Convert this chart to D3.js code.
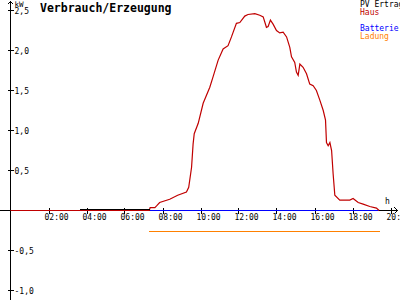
<!DOCTYPE html>
<html>
<head>
<meta charset="utf-8">
<script src="https://cdn.jsdelivr.net/npm/d3@7"></script>
<style>
  body { margin: 0; background: #fff; }
  svg { display: block; }
  text { font-family: "DejaVu Sans Mono", monospace; }
</style>
</head>
<body>
<svg id="chart" width="400" height="300"></svg>
<script>
// values: [hour, kW]
const haus = [
  [0, 0], [7.30, 0], [7.35, 0.035], [7.60, 0.035], [7.70, 0.06], [7.85, 0.10],
  [8.38, 0.14], [8.80, 0.19], [9.26, 0.23], [9.38, 0.29], [9.53, 0.54],
  [9.61, 0.83], [9.67, 0.96], [9.88, 1.09], [10.14, 1.34], [10.49, 1.54],
  [10.66, 1.67], [10.93, 1.88], [11.19, 2.02], [11.45, 2.06], [11.63, 2.17],
  [11.89, 2.34], [12.07, 2.35], [12.33, 2.43], [12.50, 2.45], [12.86, 2.46],
  [13.12, 2.44], [13.30, 2.42], [13.47, 2.29], [13.56, 2.30], [13.68, 2.38],
  [13.82, 2.33], [14.00, 2.25], [14.17, 2.22], [14.35, 2.23], [14.53, 2.17],
  [14.70, 2.04], [14.79, 1.92], [14.96, 1.85], [15.05, 1.73], [15.14, 1.69],
  [15.23, 1.83], [15.40, 1.79], [15.58, 1.71], [15.75, 1.58], [15.93, 1.56],
  [16.10, 1.50], [16.28, 1.38], [16.46, 1.25], [16.58, 1.13], [16.63, 0.85],
  [16.72, 0.81], [16.81, 0.85], [16.90, 0.75], [16.98, 0.46], [17.07, 0.19],
  [17.33, 0.13], [17.86, 0.13], [18.03, 0.15], [18.30, 0.10], [18.56, 0.08],
  [18.91, 0.05], [19.26, 0.03], [19.40, 0]
];
const pvErtrag = [[3.65, 0.0125], [7.33, 0.0125]];
const batterie = [[7.33, 0], [19.40, 0]];
const ladung = [[7.28, -0.2625], [19.45, -0.2625]];

const xTicks = [2, 4, 6, 8, 10, 12, 14, 16, 18, 20];
const xTickLabels = ["02:00", "04:00", "06:00", "08:00", "10:00", "12:00", "14:00", "16:00", "18:00", "20:00"];
const yTicks = [-1, -0.5, 0.5, 1, 1.5, 2, 2.5];
const yTickLabels = ["-1,0", "-0,5", "0,5", "1,0", "1,5", "2,0", "2,5"];

const legendNames = ["PV Ertrag", "Haus", "", "Batterie", "Ladung"];
const legendColors = ["#000000", "#c00000", "#000000", "#0000ff", "#ff8000"];
const seriesColor = { pv: "#000000", haus: "#c00000", batt: "#0000ff", ladung: "#ff8000" };

const svg = d3.select("#chart");
const x = d3.scaleLinear().domain([0, 20]).range([10.5, 390.5]);
const y = d3.scaleLinear().domain([0, 2.5]).range([210.5, 10.5]);

const axisG = svg.append("g").attr("shape-rendering", "crispEdges").attr("stroke", "#000");

// x axis line with arrow
axisG.append("line").attr("x1", 0).attr("x2", 397).attr("y1", y(0)).attr("y2", y(0));
axisG.append("path").attr("fill", "none")
  .attr("d", `M${394.5},${y(0) - 3}L${397.5},${y(0)}L${394.5},${y(0) + 3}`);

// y axis line with arrow
axisG.append("line").attr("x1", x(0)).attr("x2", x(0)).attr("y1", 1).attr("y2", 300);
axisG.append("path").attr("fill", "none")
  .attr("d", `M${x(0) - 3},${4.5}L${x(0)},${1.5}L${x(0) + 3},${4.5}`);

// x ticks
axisG.selectAll(".xt").data(xTicks).enter().append("line")
  .attr("x1", d => Math.round(x(d)) + 0.5).attr("x2", d => Math.round(x(d)) + 0.5)
  .attr("y1", y(0) - 3).attr("y2", y(0) + 3);

// y ticks
axisG.selectAll(".yt").data(yTicks).enter().append("line")
  .attr("x1", x(0) - 3).attr("x2", x(0) + 3)
  .attr("y1", d => Math.round(y(d) - 0.5) + 0.5).attr("y2", d => Math.round(y(d) - 0.5) + 0.5);

svg.selectAll(".xl").data(xTicks).enter().append("text")
  .attr("x", d => x(d) - 4).attr("y", 219.5)
  .attr("font-size", 8).attr("fill", "#000")
  .text((d, i) => xTickLabels[i]);

svg.selectAll(".yl").data(yTicks).enter().append("text")
  .attr("x", 14.5).attr("y", d => y(d) + 3.5)
  .attr("font-size", 8).attr("fill", "#000")
  .text((d, i) => yTickLabels[i]);

svg.append("text").attr("x", 14.5).attr("y", 6.5).attr("font-size", 7.5).text("kW");
svg.append("text").attr("x", 385).attr("y", 204).attr("font-size", 8).text("h");

svg.append("text").attr("x", 40).attr("y", 11.5)
  .attr("font-size", 11.5).attr("font-weight", "bold").text("Verbrauch/Erzeugung");

// series
const line = d3.line().x(d => x(d[0])).y(d => y(d[1]));
const seriesG = svg.append("g").attr("fill", "none").attr("stroke-width", 1);
seriesG.append("path").datum(ladung).attr("d", line).attr("stroke", seriesColor.ladung)
  .attr("shape-rendering", "crispEdges");
seriesG.append("path").datum(batterie).attr("d", line).attr("stroke", seriesColor.batt)
  .attr("shape-rendering", "crispEdges");
seriesG.append("path").datum(haus).attr("d", line).attr("stroke", seriesColor.haus)
  .attr("stroke-width", 1.2);
seriesG.append("path").datum(pvErtrag).attr("d", line).attr("stroke", seriesColor.pv)
  .attr("shape-rendering", "crispEdges");

// legend
svg.selectAll(".lg").data(legendNames).enter().append("text")
  .attr("x", 360).attr("y", (d, i) => 7 + i * 8)
  .attr("font-size", 8).attr("fill", (d, i) => legendColors[i])
  .text(d => d);
</script>
</body>
</html>
